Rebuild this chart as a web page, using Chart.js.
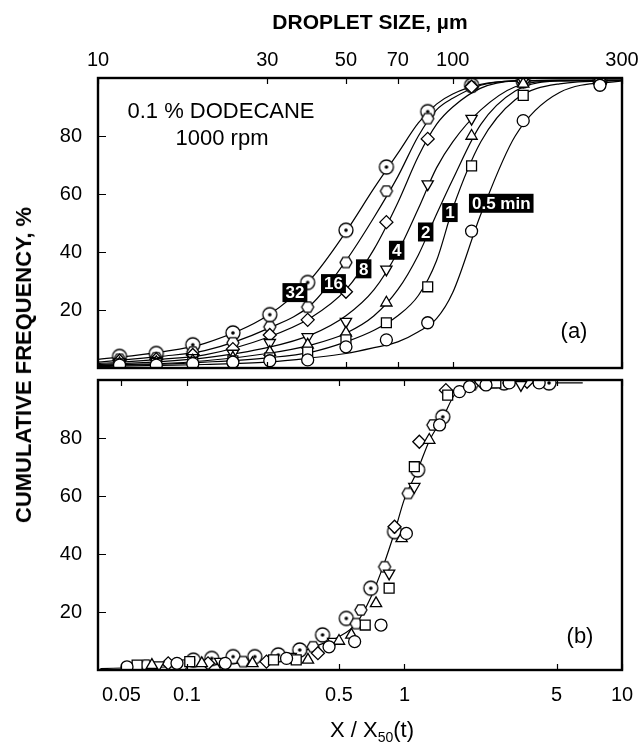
<!DOCTYPE html>
<html>
<head>
<meta charset="utf-8">
<script src="https://cdn.jsdelivr.net/npm/chart.js@4"></script>
<style>
  body { margin: 0; background: #fff; width: 639px; height: 750px; position: relative; overflow: hidden;
         font-family: "Liberation Sans", Arial, sans-serif; color: #000; }
  canvas { position: absolute; left: 0; }
  #topChart { top: 0; }
  #botChart { top: 375px; }
  .ttl { position: absolute; white-space: nowrap; transform: translate(-50%, -50%); }
  sub { font-size: 14px; vertical-align: -5px; }
</style>
</head>
<body>
<canvas id="topChart" width="639" height="375"></canvas>
<canvas id="botChart" width="639" height="375"></canvas>
<div class="ttl" style="left:370px; top:22px; font-weight:bold; font-size:21px;">DROPLET SIZE, µm</div>
<div class="ttl" style="left:24px; top:365px; font-weight:bold; font-size:22px; transform:translate(-50%,-50%) rotate(-90deg);">CUMULATIVE FREQUENCY, %</div>
<div class="ttl" style="left:372px; top:731px; font-size:22px;">X / X<sub>50</sub>(t)</div>
<script>
// panel (a): droplet size bins (µm) and cumulative frequency (%) per stirring time
const sizeBins = [11.5, 14.6, 18.5, 24, 30.5, 39, 50, 65, 85, 113, 158, 260];
const pct05 = [1, 1, 1.5, 2, 2.5, 2.8, 7.3, 9.7, 15.6, 47.2, 85.3, 97.5];
const pct1  = [1, 1.5, 2, 2.5, 3.5, 5.5, 9.7, 15.6, 28, 69.7, 94, 98.5];
const pct2  = [1.5, 2, 2.5, 3.5, 5.5, 8, 12.1, 22.5, null, 80, 98, 99];
const pct4  = [2, 2.5, 3.5, 5, 8.7, 10.7, 16, 34, 63.4, 86, 99, 99];
const pct8  = [2.5, 3, 4.5, 6.5, 11.4, 16.6, 26.3, 50.3, 79, 97, 99, 99];
const pct16 = [3, 3.5, 5.5, 8.7, 14.2, 21, 36.4, 61, 86, 97, 99, 99];
const pct32 = [4, 5, 8, 12.1, 18.4, 29.5, 47.5, 69.3, 88.4, 97.5, 99, 99];

// fitted curves of panel (a)
const curveX   = [10, 15, 20, 30, 40, 50, 60, 70, 80, 90, 100, 120, 150, 200, 300];
const curve05  = [0.5, 0.9, 1.2, 2, 3.5, 5, 7, 9, 12.5, 17, 26, 53, 80, 95, 99];
const curve1   = [0.8, 1.3, 2, 3.5, 5.5, 9, 13, 18, 25, 37, 55, 78, 92.5, 98, 99.2];
const curve2   = [1, 1.5, 2.5, 5, 8, 12, 18, 27, 39, 53, 65, 84, 95.5, 99, 99.2];
const curve4   = [1.2, 2.2, 3.5, 7, 11.5, 18, 27, 40, 55, 69, 78, 89, 97, 99, 99.2];
const curve8   = [1.5, 3, 4.5, 10.5, 17.5, 27, 41, 57, 73, 84, 90, 96.5, 99, 99.2, 99.2];
const curve16  = [2, 4, 6, 13.5, 22, 37, 52, 66, 80, 89, 93, 97.5, 99, 99.2, 99.2];
const curve32  = [3, 5.5, 8.5, 18, 31, 47, 62, 74, 84.5, 91, 94.5, 97.8, 99, 99.2, 99.2];

// panel (b): normalised size X/X50(t) and cumulative frequency (%)
const b05x  = [0.053, 0.09, 0.15, 0.287, 0.45, 0.59, 0.78, 1.02, 1.45, 1.79, 1.99, 2.37, 3.03, 4.16];
const b05y  = [1.1, 2.3, 2.3, 4, 8, 9.8, 15.5, 47.1, 84.5, 96, 97.7, 98.3, 99, 99];
const b1x   = [0.059, 0.103, 0.25, 0.318, 0.66, 0.85, 1.11, 1.58, 2.53, 2.63];
const b1y   = [1.7, 2.9, 3.5, 3.5, 15.5, 28.2, 70.1, 94.8, 99, 99];
const b2x   = [0.069, 0.117, 0.2, 0.36, 0.5, 0.57, 0.74, 0.97, 1.3];
const b2y   = [1.7, 2.3, 2.3, 3.5, 10, 12.1, 23, 45.4, 79.3];
const b4x   = [0.074, 0.142, 0.3, 0.47, 0.85, 1.11, 3.43];
const b4y   = [1.7, 2.9, 4.6, 9.8, 33.3, 63.2, 98.3];
const b8x   = [0.082, 0.125, 0.232, 0.4, 0.9, 1.17, 1.55, 2.25, 3.66];
const b8y   = [2.3, 2.3, 2.9, 5.8, 49.4, 78.7, 96.5, 99.4, 99.4];
const b16x  = [0.065, 0.095, 0.181, 0.38, 0.6, 0.63, 0.81, 1.04, 1.35, 2.05];
const b16y  = [1.7, 1.7, 2.9, 8, 16, 20.7, 35.6, 60.9, 84.5, 98.3];
const b32x  = [0.107, 0.13, 0.163, 0.205, 0.263, 0.33, 0.42, 0.54, 0.7, 0.9, 1.15, 1.5, 2.87, 4.62];
const b32y  = [3.4, 4, 4.6, 4.6, 5.2, 6.9, 12.1, 17.8, 28.2, 47.7, 69, 87.3, 99, 99];

const masterX = [0.04, 0.06, 0.1, 0.15, 0.2, 0.3, 0.4, 0.5, 0.6, 0.7, 0.8, 0.9, 1.0, 1.15, 1.3, 1.5, 1.7, 1.9, 2.2, 3, 4, 6.6];
const masterY = [0.5, 0.8, 1.3, 2, 2.8, 5, 8.5, 11.5, 16, 25, 36, 47.5, 59, 69, 79, 87, 95, 98, 98.7, 99, 99, 99];

// axis ticks
const topXTicks = [10, 30, 50, 70, 100, 300];
const botXTicks = [0.05, 0.1, 0.5, 1, 5, 10];
const botXLabels = ['0.05', '0.1', '0.5', '1', '5', '10'];
const yTicks = [20, 40, 60, 80];

// time labels on panel (a)
const timeLabels = ['32', '16', '8', '4', '2', '1', '0.5 min'];
const timeLabelX = [35.9, 46.1, 56.1, 69.5, 83.9, 98.2, 137];
const timeLabelY = [26.0, 29.1, 34.2, 40.6, 46.9, 53.6, 56.8];

const FONT = '"Liberation Sans", Arial, sans-serif';

function mkHex(r) {
  const s = Math.ceil(2 * r + 4), c = document.createElement('canvas');
  c.width = c.height = s;
  const g = c.getContext('2d');
  g.translate(s / 2, s / 2);
  g.beginPath();
  for (let i = 0; i < 6; i++) {
    const a = Math.PI / 3 * i;
    g.lineTo(r * Math.cos(a), r * Math.sin(a));
  }
  g.closePath();
  g.fillStyle = '#fff'; g.fill();
  g.lineWidth = 1.3; g.strokeStyle = '#000'; g.stroke();
  return c;
}
function mkDotCircle(r) {
  const s = Math.ceil(2 * r + 4), c = document.createElement('canvas');
  c.width = c.height = s;
  const g = c.getContext('2d');
  g.translate(s / 2, s / 2);
  g.beginPath(); g.arc(0, 0, r, 0, Math.PI * 2);
  g.fillStyle = '#fff'; g.fill();
  g.lineWidth = 1.3; g.strokeStyle = '#000'; g.stroke();
  g.beginPath(); g.arc(0, 0, 1.8, 0, Math.PI * 2);
  g.fillStyle = '#000'; g.fill();
  return c;
}

const hexImg = mkHex(6);
const dotImg = mkDotCircle(7);

const markers = [
  { pointStyle: 'circle', pointRadius: 6 },
  { pointStyle: 'rect', pointRadius: 7 },
  { pointStyle: 'triangle', pointRadius: 6.5 },
  { pointStyle: 'triangle', pointRadius: 6.5, rotation: 180 },
  { pointStyle: 'rectRot', pointRadius: 6.5 },
  { pointStyle: hexImg, pointRadius: 6 },
  { pointStyle: dotImg, pointRadius: 7 }
];

function pairs(xs, ys) {
  const out = [];
  xs.forEach((x, i) => { if (ys[i] !== null) out.push({ x: x, y: ys[i] }); });
  return out;
}

function markerSet(data, m) {
  return {
    data: data, showLine: false, order: 1,
    pointStyle: m.pointStyle, pointRadius: m.pointRadius, pointHoverRadius: m.pointRadius,
    rotation: m.rotation || 0,
    pointBackgroundColor: '#fff', pointBorderColor: '#000', pointBorderWidth: 1.3
  };
}
function curveSet(data) {
  return {
    data: data, showLine: true, order: 2, pointRadius: 0,
    borderColor: '#000', borderWidth: 1.2, cubicInterpolationMode: 'monotone', fill: false
  };
}

const frameTicks = {
  id: 'frameTicks',
  afterDatasetsDraw(chart, args, opts) {
    const { ctx, chartArea: a } = chart;
    const x = chart.scales.x, y = chart.scales.y;
    ctx.save();
    ctx.strokeStyle = '#000';
    ctx.lineWidth = 1.2;
    ctx.beginPath();
    opts.xTicks.forEach(v => {
      const px = Math.round(x.getPixelForValue(v)) + 0.5;
      ctx.moveTo(px, a.top); ctx.lineTo(px, a.top + 6);
      ctx.moveTo(px, a.bottom); ctx.lineTo(px, a.bottom - 6);
    });
    yTicks.forEach(v => {
      const py = Math.round(y.getPixelForValue(v)) + 0.5;
      ctx.moveTo(a.left, py); ctx.lineTo(a.left + 8, py);
    });
    ctx.stroke();
    ctx.lineWidth = 2.4;
    ctx.strokeRect(a.left, a.top, a.right - a.left, a.bottom - a.top);
    ctx.restore();
  }
};

const notes = {
  id: 'notes',
  afterDatasetsDraw(chart, args, opts) {
    const { ctx, chartArea: a } = chart;
    ctx.save();
    if (opts.boxes) {
      const x = chart.scales.x, y = chart.scales.y;
      ctx.font = 'bold 17px ' + FONT;
      ctx.textAlign = 'center';
      ctx.textBaseline = 'middle';
      timeLabels.forEach((t, i) => {
        const px = x.getPixelForValue(timeLabelX[i]);
        const py = y.getPixelForValue(timeLabelY[i]);
        const w = ctx.measureText(t).width + 6, h = 19;
        ctx.fillStyle = '#000';
        ctx.fillRect(px - w / 2, py - h / 2, w, h);
        ctx.fillStyle = '#fff';
        ctx.fillText(t, px, py + 1);
      });
    }
    ctx.fillStyle = '#000';
    ctx.font = '22px ' + FONT;
    ctx.textAlign = 'center';
    ctx.textBaseline = 'middle';
    opts.texts.forEach(t => {
      ctx.fillText(t.text, (t.dx >= 0 ? a.left : a.right) + t.dx, (t.dy >= 0 ? a.top : a.bottom) + t.dy);
    });
    ctx.restore();
  }
};

const tickFont = { family: FONT, size: 20 };

function noPad(s) {
  s.paddingTop = 0; s.paddingBottom = 0; s.paddingLeft = 0; s.paddingRight = 0;
}

function yScale() {
  return {
    type: 'linear', min: 0, max: 100,
    grid: { display: false, drawTicks: false }, border: { display: false },
    afterBuildTicks: s => { s.ticks = yTicks.map(v => ({ value: v })); },
    afterFit: s => { s.width = 98; noPad(s); },
    ticks: { color: '#000', font: tickFont, padding: 16, callback: v => String(v) }
  };
}

new Chart(document.getElementById('topChart'), {
  type: 'scatter',
  data: {
    datasets: [
      markerSet(pairs(sizeBins, pct05), markers[0]),
      markerSet(pairs(sizeBins, pct1), markers[1]),
      markerSet(pairs(sizeBins, pct2), markers[2]),
      markerSet(pairs(sizeBins, pct4), markers[3]),
      markerSet(pairs(sizeBins, pct8), markers[4]),
      markerSet(pairs(sizeBins, pct16), markers[5]),
      markerSet(pairs(sizeBins, pct32), markers[6]),
      curveSet(pairs(curveX, curve05)),
      curveSet(pairs(curveX, curve1)),
      curveSet(pairs(curveX, curve2)),
      curveSet(pairs(curveX, curve4)),
      curveSet(pairs(curveX, curve8)),
      curveSet(pairs(curveX, curve16)),
      curveSet(pairs(curveX, curve32))
    ]
  },
  options: {
    responsive: false, animation: false,
    layout: { autoPadding: false, padding: { top: 0, right: 17, bottom: 7, left: 0 } },
    scales: {
      x: {
        type: 'logarithmic', position: 'top', min: 10, max: 300,
        grid: { display: false, drawTicks: false }, border: { display: false },
        afterBuildTicks: s => { s.ticks = topXTicks.map(v => ({ value: v })); },
        afterFit: s => { s.height = 78; noPad(s); },
        ticks: { color: '#000', font: tickFont, padding: 6, autoSkip: false, maxRotation: 0, callback: v => String(v) }
      },
      y: yScale()
    },
    plugins: {
      legend: { display: false }, tooltip: { enabled: false },
      frameTicks: { xTicks: topXTicks },
      notes: {
        boxes: true,
        texts: [
          { text: '0.1 % DODECANE', dx: 123, dy: 34 },
          { text: '1000 rpm', dx: 124, dy: 61 },
          { text: '(a)', dx: -48, dy: -36 }
        ]
      }
    }
  },
  plugins: [frameTicks, notes]
});

new Chart(document.getElementById('botChart'), {
  type: 'scatter',
  data: {
    datasets: [
      markerSet(pairs(b05x, b05y), markers[0]),
      markerSet(pairs(b1x, b1y), markers[1]),
      markerSet(pairs(b2x, b2y), markers[2]),
      markerSet(pairs(b4x, b4y), markers[3]),
      markerSet(pairs(b8x, b8y), markers[4]),
      markerSet(pairs(b16x, b16y), markers[5]),
      markerSet(pairs(b32x, b32y), markers[6]),
      curveSet(pairs(masterX, masterY))
    ]
  },
  options: {
    responsive: false, animation: false,
    layout: { autoPadding: false, padding: { top: 5, right: 17, bottom: 0, left: 0 } },
    scales: {
      x: {
        type: 'logarithmic', position: 'bottom', min: 0.039, max: 10,
        grid: { display: false, drawTicks: false }, border: { display: false },
        afterBuildTicks: s => { s.ticks = botXTicks.map(v => ({ value: v })); },
        afterFit: s => { s.height = 80; noPad(s); },
        ticks: { color: '#000', font: tickFont, padding: 13, autoSkip: false, maxRotation: 0,
                 callback: (v, i) => botXLabels[i] }
      },
      y: yScale()
    },
    plugins: {
      legend: { display: false }, tooltip: { enabled: false },
      frameTicks: { xTicks: botXTicks },
      notes: { boxes: false, texts: [{ text: '(b)', dx: -42, dy: -33 }] }
    }
  },
  plugins: [frameTicks, notes]
});
</script>
</body>
</html>
